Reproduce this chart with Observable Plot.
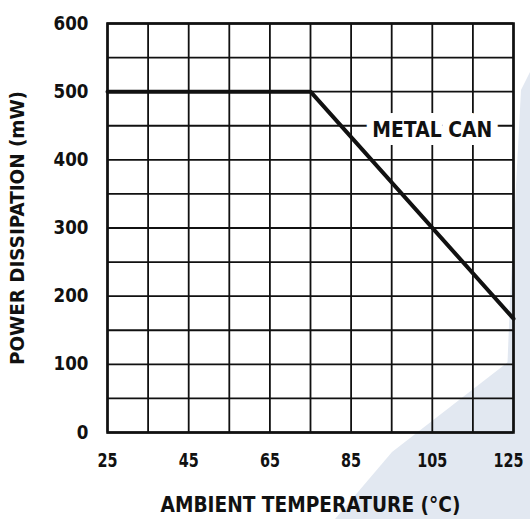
<!DOCTYPE html>
<html>
<head>
<meta charset="utf-8">
<script src="https://cdn.jsdelivr.net/npm/d3@7"></script>
<script src="https://cdn.jsdelivr.net/npm/@observablehq/plot@0.6"></script>
<style>
  html, body { margin: 0; padding: 0; background: #fff; }
  #wrap { position: relative; width: 530px; height: 519px; overflow: hidden; }
  #wm { position: absolute; left: 0; top: 0; }
  #chart { position: absolute; left: 0; top: 0; }
  #chart svg { background: transparent !important; }
  #chart svg, #chart svg text { font-family: "DejaVu Sans", sans-serif; font-weight: bold; }
</style>
</head>
<body>
<div id="wrap">
  <svg id="wm" width="530" height="519">
    <polygon points="335,519 392,452 530,345 530,519" fill="#e2e8f1"/>
    <polygon points="521,90 530,72 530,360 506,400 510,300" fill="#e2e8f1"/>
  </svg>
  <div id="chart"></div>
</div>
<script>
// Data
const temperature = [25, 75, 125];          // ambient temperature (°C)
const powerDissipation = [500, 500, 167];  // power dissipation (mW)
const seriesName = "METAL CAN";
const seriesLabelAt = {t: 105, p: 450};

const xTickLabels = [25, 45, 65, 85, 105, 125];
const yTickLabels = [0, 100, 200, 300, 400, 500, 600];
const xGridLines = [25, 35, 45, 55, 65, 75, 85, 95, 105, 115, 125];
const yGridLines = [0, 50, 100, 150, 200, 250, 300, 350, 400, 450, 500, 550, 600];

const xTitle = "AMBIENT TEMPERATURE (°C)";
const yTitle = "POWER DISSIPATION (mW)";

const curve = temperature.map((t, i) => ({t, p: powerDissipation[i]}));

const chart = Plot.plot({
  width: 530,
  height: 519,
  marginLeft: 107,
  marginRight: 17,
  marginTop: 23,
  marginBottom: 87,
  style: {fontSize: "18px", color: "#111", background: "transparent"},
  x: {domain: [25, 125], label: null},
  y: {domain: [0, 600], label: null},
  marks: [
    Plot.ruleX(xGridLines, {stroke: "#111", strokeWidth: 1.8}),
    Plot.ruleY(yGridLines, {stroke: "#111", strokeWidth: 1.8}),
    Plot.frame({stroke: "#111", strokeWidth: 2.6}),
    Plot.line(curve, {x: "t", y: "p", stroke: "#111", strokeWidth: 4}),
    Plot.text([seriesLabelAt], {x: "t", y: "p", text: () => seriesName, fill: "#111",
      stroke: "white", strokeWidth: 16, fontSize: 21, fontWeight: "bold", dy: 5}),
    Plot.axisX({ticks: xTickLabels, tickSize: 0, tickPadding: 20, label: null, fontSize: 20}),
    Plot.axisY({ticks: yTickLabels, tickSize: 0, tickPadding: 19, label: null, fontSize: 19}),
    Plot.text([xTitle], {frameAnchor: "bottom", dy: 72, text: d => d, fontSize: 22, fontWeight: "bold",
      lineAnchor: "middle"}),
    Plot.text([yTitle], {frameAnchor: "left", dx: -90, rotate: -90, text: d => d, fontSize: 20, fontWeight: "bold",
      lineAnchor: "middle"})
  ]
});
document.getElementById("chart").appendChild(chart);

// Condense the glyphs horizontally, as in the reference's condensed typeface
function fit(t, len, centre) {
  t.setAttribute("textLength", len);
  t.setAttribute("lengthAdjust", "spacingAndGlyphs");
  if (centre) {
    t.setAttribute("text-anchor", "start");
    t.style.textAnchor = "start";
    t.setAttribute("x", -len / 2);
  }
}
chart.querySelectorAll("text").forEach(t => {
  const s = t.textContent;
  const g = t.closest("g");
  const aria = g ? (g.getAttribute("aria-label") || "") : "";
  if (s === xTitle) fit(t, 300);
  else if (s === yTitle) fit(t, 274, true);
  else if (s === seriesName) fit(t, 120);
  else if (aria.startsWith("x-axis")) {
    fit(t, t.getComputedTextLength() * 0.72);
    if (s === String(xTickLabels[xTickLabels.length - 1])) t.setAttribute("dx", -5);
  }
  else if (aria.startsWith("y-axis")) fit(t, t.getComputedTextLength() * 0.88);
});
</script>
</body>
</html>
